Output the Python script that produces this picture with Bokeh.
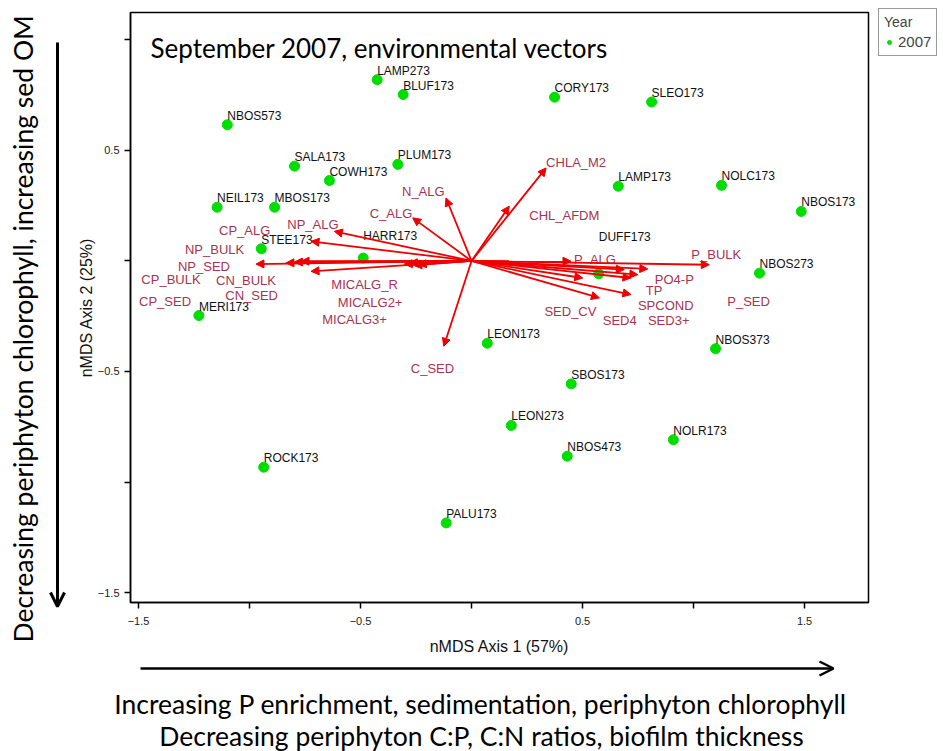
import numpy as np
from bokeh.plotting import figure
from bokeh.layouts import row, column
from bokeh.models import (ColumnDataSource, Arrow, NormalHead, OpenHead, Label,
                          Legend, LegendItem, FixedTicker, Range1d)
from bokeh.core.properties import value
from bokeh.embed import file_html
from bokeh.resources import INLINE

# ---------------- data ----------------
site_names = ["LAMP273", "BLUF173", "NBOS573", "SALA173", "PLUM173", "COWH173",
              "NEIL173", "MBOS173", "STEE173", "HARR173", "MERI173", "CORY173",
              "SLEO173", "LAMP173", "NOLC173", "NBOS173", "DUFF173", "NBOS273",
              "LEON173", "NBOS373", "SBOS173", "LEON273", "NOLR173", "NBOS473",
              "ROCK173", "PALU173"]
site_axis1 = [-0.425, -0.308, -1.100, -0.797, -0.332, -0.640,
              -1.146, -0.887, -0.947, -0.488, -1.228, 0.374,
              0.811, 0.661, 1.126, 1.485, 0.573, 1.297,
              0.071, 1.099, 0.449, 0.179, 0.909, 0.431,
              -0.936, -0.114]
site_axis2 = [0.820, 0.753, 0.616, 0.429, 0.437, 0.364,
              0.243, 0.243, 0.055, 0.013, -0.247, 0.741,
              0.719, 0.338, 0.342, 0.224, -0.058, -0.055,
              -0.372, -0.397, -0.556, -0.744, -0.809, -0.883,
              -0.933, -1.185]

vector_names = ["NP_ALG", "CP_ALG", "NP_BULK", "NP_SED", "CP_BULK", "CP_SED",
                "CN_BULK", "CN_SED", "MICALG_R", "MICALG2+", "MICALG3+",
                "C_ALG", "N_ALG", "CHLA_M2", "CHL_AFDM", "C_SED",
                "P_ALG", "P_BULK", "PO4-P", "TP", "P_SED", "SED3+", "SED4",
                "SED_CV", "SPCOND"]
vector_axis1 = [-0.618, -0.723, -0.836, -0.971, -0.798, -0.768,
                -0.723, -0.303, -0.280, -0.260, -0.240,
                -0.265, -0.115, 0.336, 0.170, -0.125,
                0.448, 1.071, 0.794, 0.749, 0.688, 0.718, 0.501,
                0.576, 0.718]
vector_axis2 = [0.134, 0.089, -0.009, -0.014, -0.005, -0.001,
                -0.047, -0.014, -0.009, -0.020, -0.015,
                0.195, 0.285, 0.421, 0.248, -0.386,
                -0.001, -0.017, -0.036, -0.062, -0.039, -0.077, -0.077,
                -0.167, -0.152]

year_label = "2007"
x_tick_values = [-1.5, -0.5, 0.5, 1.5]
x_minor_values = [-1.0, 0.0, 1.0]
y_tick_values = [-1.5, -0.5, 0.5]
y_minor_values = [-1.0, 0.0, 1.0]

title_text = "September 2007, environmental vectors"
left_note = "Decreasing  periphyton chlorophyll, increasing sed OM"
bottom_note_1 = "Increasing P enrichment, sedimentation, periphyton chlorophyll"
bottom_note_2 = "Decreasing periphyton C:P, C:N ratios, biofilm thickness"

# ---------------- styling (label nudges in pixels) ----------------
site_label_nudge = {"DUFF173": -37, "HARR173": -22}
vector_label_nudge = {
    "NP_ALG": (-47, -7), "CP_ALG": (-92, -11), "NP_BULK": (-101, -13),
    "NP_SED": (-78, 2), "CP_BULK": (-153, 17), "CP_SED": (-162, 40),
    "CN_BULK": (-95, 9), "CN_SED": (-179, 31), "MICALG_R": (-78, 22),
    "MICALG2+": (-76, 37), "MICALG3+": (-96, 55), "C_ALG": (-43, -4),
    "N_ALG": (-44, -6), "CHLA_M2": (0, -5), "CHL_AFDM": (20, 9),
    "C_SED": (-33, 22), "P_ALG": (3, -2), "P_BULK": (-18, -10),
    "PO4-P": (7, 11), "TP": (8, 16), "P_SED": (103, 32), "SED3+": (17, 43),
    "SED4": (20, 43), "SED_CV": (-55, 14), "SPCOND": (7, 11),
}

GREEN = "#00dd00"
RED = "#ee0000"
VEC_TXT = "#a8334f"
NOTE_FONT = "Lato"

LEFT_W = 70
LEG_W = 73
MAIN_W = 943 - LEFT_W - LEG_W
TOP_H = 660
BOTTOM_H = 751 - TOP_H

site_src = ColumnDataSource(dict(
    x=site_axis1, y=site_axis2, name=site_names,
    dx=[0] * len(site_names),
    dy=[site_label_nudge.get(n, -9) for n in site_names],
))
vec_src = ColumnDataSource(dict(
    x0=[0.0] * len(vector_names), y0=[0.0] * len(vector_names),
    x=vector_axis1, y=vector_axis2, name=vector_names,
    dx=[vector_label_nudge[n][0] for n in vector_names],
    dy=[vector_label_nudge[n][1] for n in vector_names],
))

# ---------------- main ordination plot ----------------
p = figure(width=MAIN_W, height=TOP_H,
           x_range=Range1d(-1.536, 1.788), y_range=Range1d(-1.545, 1.124),
           output_backend="svg", toolbar_location=None,
           min_border_left=130 - LEFT_W, min_border_right=2,
           min_border_top=12, min_border_bottom=TOP_H - 602)
p.background_fill_color = "white"
p.border_fill_color = "white"
p.outline_line_color = "black"
p.outline_line_width = 1.5
p.grid.visible = False

p.xaxis.ticker = FixedTicker(ticks=x_tick_values, minor_ticks=x_minor_values)
p.yaxis.ticker = FixedTicker(ticks=y_tick_values, minor_ticks=y_minor_values)
for ax in (p.xaxis[0], p.yaxis[0]):
    ax.axis_line_color = "black"
    ax.axis_line_width = 1.5
    ax.major_tick_out = 6
    ax.major_tick_in = 0
    ax.minor_tick_out = 6
    ax.minor_tick_in = 0
    ax.major_tick_line_width = 1.5
    ax.minor_tick_line_width = 1.5
    ax.minor_tick_line_color = "black"
    ax.major_label_text_font = "Liberation Sans"
    ax.major_label_text_font_size = "11px"
    ax.major_label_text_color = "#222222"
    ax.axis_label_text_font = "Liberation Sans"
    ax.axis_label_text_font_size = "16px"
    ax.axis_label_text_font_style = "normal"
    ax.axis_label_text_color = "#111111"
p.xaxis.axis_label = "nMDS Axis 1 (57%)"
p.yaxis.axis_label = "nMDS Axis 2 (25%)"
p.xaxis.major_label_standoff = 8
p.xaxis.axis_label_standoff = 10
p.yaxis.major_label_standoff = 5
p.yaxis.axis_label_standoff = 0

# vectors
p.add_layout(Arrow(source=vec_src, x_start="x0", y_start="y0", x_end="x", y_end="y",
                   line_color=RED, line_width=1.8,
                   end=NormalHead(size=8, fill_color=RED, line_color=RED, line_width=1)))

# sites
r = p.scatter(x="x", y="y", source=site_src, size=10,
              fill_color=GREEN, line_color=GREEN)
p.text(x="x", y="y", text="name", source=site_src, x_offset="dx", y_offset="dy",
       text_font=value("Liberation Sans"), text_font_size="12px",
       text_color="#111111", text_align="left", text_baseline="alphabetic")

# vector labels
p.text(x="x", y="y", text="name", source=vec_src, x_offset="dx", y_offset="dy",
       text_font=value("Liberation Sans"), text_font_size="13px",
       text_color=VEC_TXT, text_align="left", text_baseline="alphabetic")

# title inside plot
p.add_layout(Label(x=20, y=555, x_units="screen", y_units="screen",
                   text=title_text,
                   text_font=NOTE_FONT, text_font_size="26px", text_color="black",
                   text_baseline="alphabetic", text_align="left"))

# ---------------- legend panel (right margin) ----------------
# the key glyph re-uses the site data; the panel's ranges keep it out of view
pg = figure(width=LEG_W, height=TOP_H, x_range=Range1d(10, 11), y_range=Range1d(10, 11),
            x_axis_type=None, y_axis_type=None, output_backend="svg",
            toolbar_location=None, min_border=0, outline_line_color=None)
pg.grid.visible = False
key = pg.scatter(x="x", y="y", source=site_src, size=10,
                 fill_color=GREEN, line_color=GREEN)
legend = Legend(items=[LegendItem(label=year_label, renderers=[key])], title="Year",
                location="top_left", padding=5, spacing=2, margin=8,
                glyph_width=10, glyph_height=12, label_standoff=4,
                label_text_font="Liberation Sans", label_text_font_size="15px",
                title_text_font="Liberation Sans", title_text_font_size="14px",
                title_text_font_style="normal", title_standoff=3,
                border_line_color="#333333", border_line_width=1,
                background_fill_color="white")
pg.add_layout(legend)

# ---------------- left note panel ----------------
pl = figure(width=LEFT_W, height=TOP_H, x_range=Range1d(0, LEFT_W), y_range=Range1d(0, TOP_H),
            x_axis_type=None, y_axis_type=None, output_backend="svg",
            toolbar_location=None, min_border=0, outline_line_color=None)
pl.grid.visible = False
pl.text(x=[22], y=[TOP_H - 325], text=[left_note], angle=np.pi / 2,
        text_font=value(NOTE_FONT), text_font_size="26.5px", text_color="black",
        text_align="center", text_baseline="middle")
pl.add_layout(Arrow(x_start=57, y_start=TOP_H - 42, x_end=57, y_end=TOP_H - 606,
                    line_color="black", line_width=3,
                    end=OpenHead(size=14, line_width=3, line_color="black")))

# ---------------- bottom note panel ----------------
pb = figure(width=943, height=BOTTOM_H, x_range=Range1d(0, 943), y_range=Range1d(0, BOTTOM_H),
            x_axis_type=None, y_axis_type=None, output_backend="svg",
            toolbar_location=None, min_border=0, outline_line_color=None)
pb.grid.visible = False
pb.add_layout(Arrow(x_start=140, y_start=BOTTOM_H - 8, x_end=833, y_end=BOTTOM_H - 8,
                    line_color="black", line_width=2.5,
                    end=OpenHead(size=14, line_width=2.5, line_color="black")))
pb.text(x=[480, 481], y=[BOTTOM_H - 43, BOTTOM_H - 75],
        text=[bottom_note_1, bottom_note_2],
        text_font=value(NOTE_FONT), text_font_size="26.5px", text_color="black",
        text_align="center", text_baseline="middle")

top_row = row(column(pl), column(p), column(pg), spacing=0)
layout = column(top_row, row(pb), spacing=0)
open("out.html", "w").write(file_html(layout, INLINE))
